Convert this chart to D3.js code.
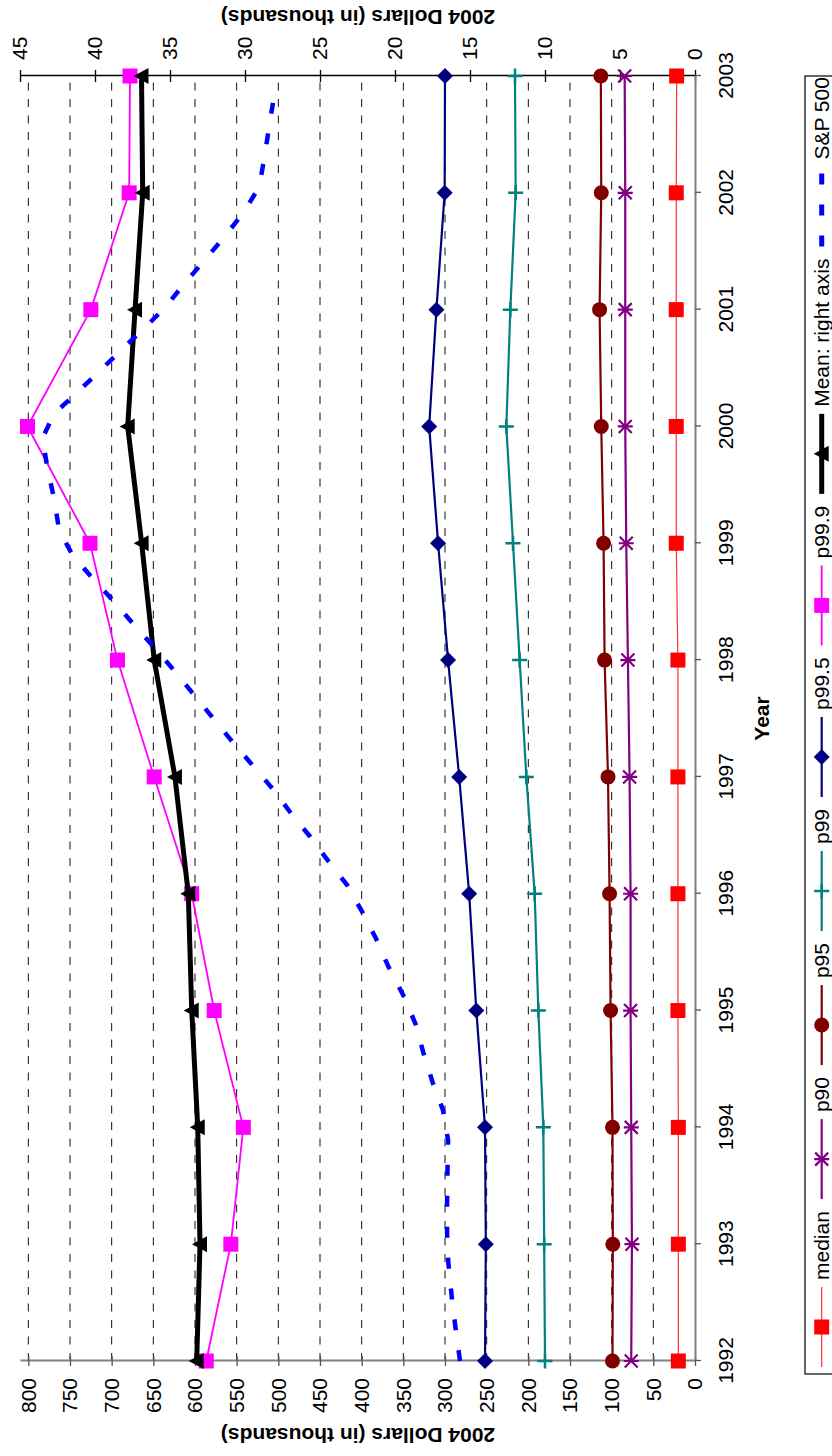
<!DOCTYPE html>
<html><head><meta charset="utf-8">
<script src="https://cdn.jsdelivr.net/npm/d3@7"></script>
<style>
body{margin:0;background:#fff}
svg{display:block}
text{font-family:Arial,"Liberation Sans",sans-serif}
</style>
</head><body>
<svg id="chart" width="832" height="1456"></svg>
<script>
// ---------- data ----------
const years = [1992,1993,1994,1995,1996,1997,1998,1999,2000,2001,2002,2003];
const median = [20,20,20,20.5,20.5,20.5,20.5,22.5,22.5,22.5,22.5,22];
const p90 = [76.5,75.7,76.5,77.3,77.3,78.5,80.5,82.5,83.7,83.7,83.7,84.4];
const p95 = [99,98.6,99,101.3,102.5,104.4,108.5,109.7,112.5,114.5,112.5,113];
const p99 = [180,181,182,188,192.4,202.4,210.4,218.4,226.4,221.6,215.2,216];
const p995 = [252,251,252,262.4,271,283,296.3,308.3,319,310.3,300.4,300];
const p999 = [586.5,557,542,577,604,649,693,726,801,725,679,678];
const meanRight = [33.22,33.0,33.15,33.55,33.78,34.67,36.05,36.89,37.82,37.33,36.82,36.9];
const spYears = [1992.0,1992.29,1992.52,1992.84,1993.09,1993.35,1993.63,1993.89,1994.15,1994.38,1994.64,1994.89,
  1995.13,1995.37,1995.62,1995.84,1996.07,1996.27,1996.49,1996.69,1996.90,1997.10,1997.30,1997.50,1997.71,1997.91,
  1998.11,1998.30,1998.50,1998.70,1998.90,1999.11,1999.38,1999.64,1999.90,2000.11,2000.28,2000.47,2000.65,2000.84,
  2001.01,2001.22,2001.42,2001.62,2001.84,2002.05,2002.31,2002.57,2002.92];
const spValues = [282,287.5,291.5,296,297.5,297.5,297,296.3,302.5,314.6,326,335.6,
  350,367.5,383,399,417,439,462,485,507,531,555,578,602,625,
  649,673,697,723,747,763,769,777,783,769,743,715,689,661,
  637,613,589,565,541,523,516.5,511,503];
const leftTicks = [0,50,100,150,200,250,300,350,400,450,500,550,600,650,700,750,800];
const rightTicks = [0,5,10,15,20,25,30,35,40,45];
const legendNames = ["median","p90","p95","p99","p99.5","p99.9","Mean: right axis","S&P 500"];
const axisTitleValue = "2004 Dollars (in thousands)";
const axisTitleYear = "Year";

// ---------- layout (landscape chart, rotated into portrait page) ----------
const W = 1456, H = 832;
const svg = d3.select("#chart");
const g = svg.append("g").attr("transform", `translate(0,${W}) rotate(-90)`);

const x = d3.scaleLinear().domain([1992, 2003]).range([95, 1380]);
const yL = d3.scaleLinear().domain([0, 810]).range([695, 20]);
const yR = d3.scaleLinear().domain([0, 45]).range([695, 20]);

const FONT = 21;

// gridlines
g.append("g").selectAll("line").data(leftTicks.filter(v => v > 0)).join("line")
  .attr("x1", x(1992)).attr("x2", x(2003))
  .attr("y1", d => yL(d)).attr("y2", d => yL(d))
  .attr("stroke", "#111").attr("stroke-width", 1).attr("stroke-dasharray", "8,8.5");

// left axis
const axL = g.append("g").attr("transform", `translate(${x(1992)},0)`)
  .call(d3.axisLeft(yL).tickValues(leftTicks).tickSize(5).tickSizeOuter(0).tickPadding(12));
axL.select(".domain").attr("stroke", "#808080").attr("stroke-width", 2);
axL.selectAll(".tick line").attr("x1", 5).attr("stroke", "#555").attr("stroke-width", 1.3);
axL.selectAll(".tick text").attr("font-size", FONT).attr("fill", "#000");

// right axis
const axR = g.append("g").attr("transform", `translate(${x(2003)},0)`)
  .call(d3.axisRight(yR).tickValues(rightTicks).tickSize(6).tickSizeOuter(0).tickPadding(10));
axR.select(".domain").attr("stroke", "#000").attr("stroke-width", 1.3);
axR.selectAll(".tick line").attr("x1", -6).attr("stroke", "#000").attr("stroke-width", 1.3);
axR.selectAll(".tick text").attr("font-size", FONT).attr("fill", "#000");

// year axis
const axB = g.append("g").attr("transform", `translate(0,${yL(0)})`)
  .call(d3.axisBottom(x).tickValues(years).tickFormat(d3.format("d")).tickSize(6).tickSizeOuter(0).tickPadding(17));
axB.select(".domain").attr("stroke", "#808080").attr("stroke-width", 2);
axB.selectAll(".tick line").attr("stroke", "#555").attr("stroke-width", 1.3);
axB.selectAll(".tick text").attr("font-size", FONT).attr("fill", "#000");

// axis titles
g.append("text").attr("transform", `translate(28,358) rotate(-90)`)
  .attr("text-anchor", "middle").attr("font-weight", "bold").attr("font-size", FONT).text(axisTitleValue);
g.append("text").attr("transform", `translate(1446,358) rotate(-90)`)
  .attr("text-anchor", "middle").attr("font-weight", "bold").attr("font-size", FONT).text(axisTitleValue);
g.append("text").attr("x", (x(1992) + x(2003)) / 2).attr("y", 769)
  .attr("text-anchor", "middle").attr("font-weight", "bold").attr("font-size", FONT).text(axisTitleYear);

// ---------- markers ----------
function drawMarker(sel, type, cx, cy, color) {
  const s = 7.5;
  if (type === "square") {
    sel.append("rect").attr("x", cx - s).attr("y", cy - s).attr("width", 2 * s).attr("height", 2 * s).attr("fill", color);
  } else if (type === "circle") {
    sel.append("circle").attr("cx", cx).attr("cy", cy).attr("r", s).attr("fill", color);
  } else if (type === "diamond") {
    const d = 8;
    sel.append("path").attr("d", `M${cx},${cy - d}L${cx + d},${cy}L${cx},${cy + d}L${cx - d},${cy}Z`).attr("fill", color);
  } else if (type === "plus") {
    sel.append("path").attr("d", `M${cx - s},${cy}H${cx + s}M${cx},${cy - s}V${cy + s}`)
      .attr("stroke", color).attr("stroke-width", 2.5).attr("fill", "none");
  } else if (type === "asterisk") {
    const a = 6.5;
    sel.append("path").attr("d", `M${cx - a},${cy - a}L${cx + a},${cy + a}M${cx - a},${cy + a}L${cx + a},${cy - a}M${cx},${cy - s}V${cy + s}`)
      .attr("stroke", color).attr("stroke-width", 2.2).attr("fill", "none");
  } else if (type === "triangle") {
    sel.append("path").attr("d", `M${cx},${cy - 8}L${cx + 8},${cy + 7}L${cx - 8},${cy + 7}Z`).attr("fill", color);
  }
}

const series = [
  {name: legendNames[0], vals: median, color: "#ff0000", lineColor: "#ff3030", width: 1.2, marker: "square", axis: yL},
  {name: legendNames[1], vals: p90, color: "#800080", lineColor: "#800080", width: 2.2, marker: "asterisk", axis: yL},
  {name: legendNames[2], vals: p95, color: "#800000", lineColor: "#800000", width: 2.2, marker: "circle", axis: yL},
  {name: legendNames[3], vals: p99, color: "#008080", lineColor: "#008080", width: 2.2, marker: "plus", axis: yL},
  {name: legendNames[4], vals: p995, color: "#000080", lineColor: "#000080", width: 2.2, marker: "diamond", axis: yL},
  {name: legendNames[5], vals: p999, color: "#ff00ff", lineColor: "#ff00ff", width: 1.8, marker: "square", axis: yL},
  {name: legendNames[6], vals: meanRight, color: "#000000", lineColor: "#000000", width: 5, marker: "triangle", axis: yR}
];

const plot = g.append("g");
series.forEach(s => {
  const pts = years.map((yr, i) => [x(yr), s.axis(s.vals[i])]);
  plot.append("path").attr("d", d3.line()(pts)).attr("fill", "none")
    .attr("stroke", s.lineColor).attr("stroke-width", s.width).attr("stroke-linejoin", "round");
  const mg = plot.append("g");
  pts.forEach(p => drawMarker(mg, s.marker, p[0], p[1], s.color));
});

// S&P 500 dashed line
const spPts = spYears.map((yr, i) => [x(yr), yL(spValues[i])]);
plot.append("path").attr("d", d3.line()(spPts)).attr("fill", "none")
  .attr("stroke", "#0000ff").attr("stroke-width", 4.5).attr("stroke-dasharray", "11,20");

// ---------- legend ----------
const legY = 821.7;
const leg = g.append("g");
leg.append("rect").attr("x", 82).attr("y", 805).attr("width", 1298).attr("height", 60)
  .attr("fill", "#fff").attr("stroke", "#000").attr("stroke-width", 1.2);
let lx = 89;
const legItems = series.concat([{name: legendNames[7], dashed: true}]);
legItems.forEach(s => {
  if (s.dashed) {
    lx += 0;
    leg.append("line").attr("x1", lx).attr("x2", lx + 80).attr("y1", legY).attr("y2", legY)
      .attr("stroke", "#0000ff").attr("stroke-width", 5).attr("stroke-dasharray", "11,20");
  } else {
    leg.append("line").attr("x1", lx).attr("x2", lx + 80).attr("y1", legY).attr("y2", legY)
      .attr("stroke", s.lineColor).attr("stroke-width", s.width);
    drawMarker(leg, s.marker, lx + 40, legY, s.color);
  }
  const t = leg.append("text").attr("x", lx + 87).attr("y", legY + 7.2).attr("font-size", FONT).text(s.name);
  lx = lx + 87 + t.node().getComputedTextLength() + 12;
});
</script>
</body></html>
